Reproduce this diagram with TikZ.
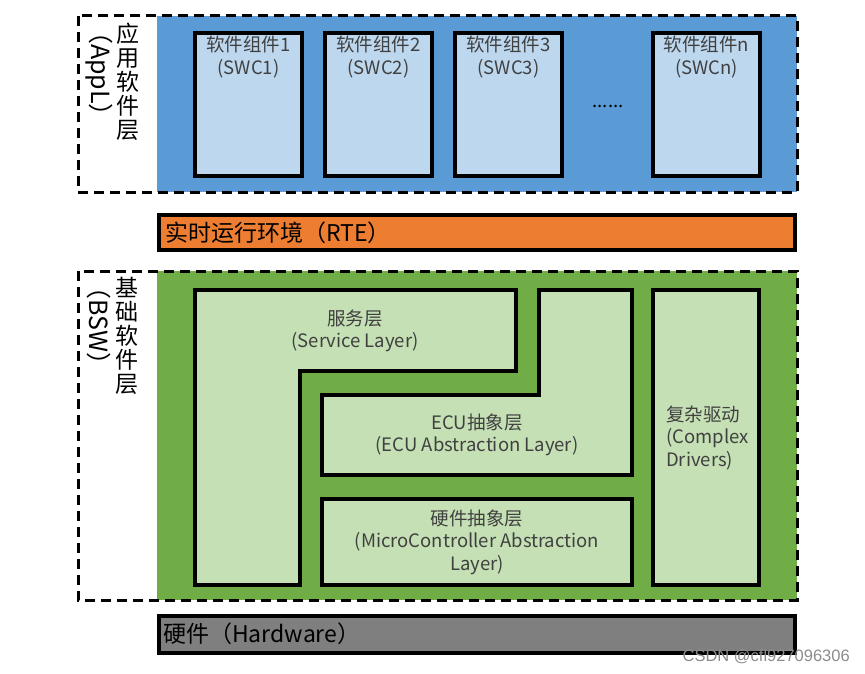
\documentclass[tikz,border=0pt]{standalone}
\usepackage{fontspec}
\setmainfont{Noto Sans CJK SC}
\newfontfamily\markfont{Liberation Sans}
\usetikzlibrary{calc}
\definecolor{applblue}{HTML}{5B9BD5}
\definecolor{swcblue}{HTML}{BDD7EE}
\definecolor{rteorange}{HTML}{ED7D31}
\definecolor{bswgreen}{HTML}{70AD47}
\definecolor{modgreen}{HTML}{C5E0B4}
\definecolor{hwgray}{HTML}{7F7F7F}
\definecolor{txtgray}{HTML}{404040}

\begin{document}
\begin{tikzpicture}[x=1pt, y=-1pt,
	layerframe/.style={line width=3pt, dash pattern=on 10pt off 6pt},
	block/.style={draw, line width=3.5pt},
	lbl/.style={text=txtgray, font=\fontsize{18.5}{22.5}\selectfont, align=center, inner sep=0pt},
	barlbl/.style={font=\fontsize{23}{26}\selectfont, anchor=west, inner sep=0pt},
	side/.style={font=\fontsize{23}{24}\selectfont, align=center, inner sep=0pt},
	sideen/.style={font=\fontsize{25}{26}\selectfont, rotate=-90, inner sep=0pt}]
	\useasboundingbox (0,0) rectangle (865,674);

	% application layer
	\fill[applblue] (157,16) rectangle (797,192);
	\draw[layerframe] (78,16) rectangle (797,192);
	\node[side] (applzh) at (128,82) {应\\用\\软\\件\\层};
	\node[sideen] (applen) at (99,74) {（AppL）};
	\foreach \x/\n in {195/1, 325/2, 455/3, 653/n}
	{
		\draw[block, fill=swcblue] (\x,33) rectangle ($(\x,176)+(107,0)$);
		\node[lbl, anchor=north] (swc\n) at ($(\x,36)+(53.5,0)$) {软件组件\n\\(SWC\n)};
	}
	\node[lbl, text=black] (dots) at (608,106) {......};

	% runtime environment
	\draw[block, fill=rteorange] (159,215) rectangle (795,250);
	\node[barlbl] (rte) at (165,233) {实时运行环境（RTE）};

	% basic software
	\fill[bswgreen] (157,271) rectangle (797,600);
	\draw[layerframe] (78,271) rectangle (797,600);
	\node[side] (bswzh) at (127,336) {基\\础\\软\\件\\层};
	\node[sideen] (bswen) at (99,326) {（BSW）};

	\draw[block, fill=modgreen] (195,290) -- (516,290) -- (516,371) -- (300,371)
		-- (300,585) -- (195,585) -- cycle;
	\node[lbl] (srv) at (355,331) {服务层\\(Service Layer)};

	\draw[block, fill=modgreen] (322,395) -- (539,395) -- (539,290) -- (632,290)
		-- (632,475) -- (322,475) -- cycle;
	\node[lbl] (ecual) at (477,435) {ECU抽象层\\(ECU Abstraction Layer)};

	\draw[block, fill=modgreen] (322,499) rectangle (632,585);
	\node[lbl] (mcal) at (477,542) {硬件抽象层\\(MicroController Abstraction\\Layer)};

	\draw[block, fill=modgreen] (653,290) rectangle (759,585);
	\node[lbl, align=left, anchor=west] (cdd) at (666,438) {复杂驱动\\(Complex\\Drivers)};

	% hardware
	\draw[block, fill=hwgray] (159,616) rectangle (795,653);
	\node[barlbl] (hw) at (163,634) {硬件（Hardware）};

	\node[anchor=east, inner sep=0pt, text=black!45, font=\markfont\fontsize{16.5}{19}\selectfont] (mark) at (850,657) {CSDN @cfl927096306};
\end{tikzpicture}
\end{document}
